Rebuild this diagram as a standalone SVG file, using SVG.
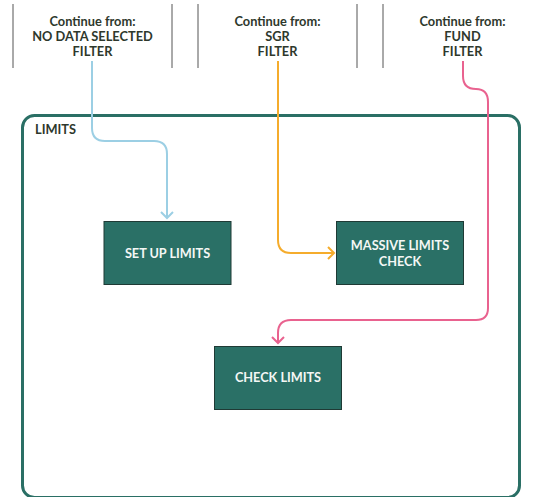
<svg xmlns="http://www.w3.org/2000/svg" width="535" height="497" viewBox="0 0 535 497">
  <style>
    .hdr { font-family: Lato, "Liberation Sans", sans-serif; font-weight: 700; font-size: 12.8px; fill: #2e382c; text-anchor: middle; }
    .sep { stroke: #555; stroke-width: 1; }
    .node rect { fill: #2a7066; stroke: #1f3a35; stroke-width: 1; }
    .node text { font-family: Lato, "Liberation Sans", sans-serif; font-weight: 700; font-size: 12.7px; fill: #f4f7f5; text-anchor: middle; }
    .edge { fill: none; stroke-width: 2; }
    .lbl { font-family: Lato, "Liberation Sans", sans-serif; font-weight: 700; font-size: 12.8px; fill: #2e382c; }
  </style>
  <defs>
    <marker id="arrBlue" markerUnits="userSpaceOnUse" markerWidth="14" markerHeight="14" refX="7" refY="7" orient="auto" viewBox="0 0 14 14">
      <path d="M1,1 L7,7 L1,13" fill="none" stroke="#9ccfe4" stroke-width="2"/>
    </marker>
    <marker id="arrOrange" markerUnits="userSpaceOnUse" markerWidth="14" markerHeight="14" refX="7" refY="7" orient="auto" viewBox="0 0 14 14">
      <path d="M1,1 L7,7 L1,13" fill="none" stroke="#f5ac2c" stroke-width="2"/>
    </marker>
    <marker id="arrPink" markerUnits="userSpaceOnUse" markerWidth="14" markerHeight="14" refX="7" refY="7" orient="auto" viewBox="0 0 14 14">
      <path d="M1,1 L7,7 L1,13" fill="none" stroke="#e9628f" stroke-width="2"/>
    </marker>
  </defs>

  <rect width="535" height="497" fill="#ffffff"/>

  <!-- header columns -->
  <g id="header">
    <line class="sep" x1="13" y1="4" x2="13" y2="68"/>
    <line class="sep" x1="172" y1="4" x2="172" y2="68"/>
    <line class="sep" x1="198" y1="4" x2="198" y2="68"/>
    <line class="sep" x1="357" y1="4" x2="357" y2="68"/>
    <line class="sep" x1="383" y1="4" x2="383" y2="68"/>
    <text class="hdr" x="92.5" y="26">Continue from:</text>
    <text class="hdr" x="92.5" y="41">NO DATA SELECTED</text>
    <text class="hdr" x="92.5" y="56">FILTER</text>
    <text class="hdr" x="277.5" y="26">Continue from:</text>
    <text class="hdr" x="277.5" y="41">SGR</text>
    <text class="hdr" x="277.5" y="56">FILTER</text>
    <text class="hdr" x="462.5" y="26">Continue from:</text>
    <text class="hdr" x="462.5" y="41">FUND</text>
    <text class="hdr" x="462.5" y="56">FILTER</text>
  </g>

  <!-- LIMITS container -->
  <g id="limits">
    <rect x="22.5" y="115.5" width="497" height="382" rx="12" ry="12" fill="none" stroke="#2a6f65" stroke-width="3"/>
    <text class="lbl" x="35" y="134">LIMITS</text>
  </g>

  <!-- connectors -->
  <g id="connectors">
    <path class="edge" stroke="#9ccfe4" d="M92 61 V128 Q92 141 105 141 H154 Q167 141 167 154 V218" marker-end="url(#arrBlue)"/>
    <path class="edge" stroke="#f5ac2c" d="M278 61 V240 Q278 253 291 253 H334" marker-end="url(#arrOrange)"/>
    <path class="edge" stroke="#e9628f" d="M463 61 V76 Q463 89 476 89 Q488 89 488 102 V308 Q488 320 476 320 H291 Q278 320 278 333 V343" marker-end="url(#arrPink)"/>
  </g>

  <!-- nodes -->
  <g id="setUpLimits" class="node">
    <rect x="104" y="221.5" width="127" height="63"/>
    <text x="167.5" y="258">SET UP LIMITS</text>
  </g>
  <g id="massiveLimitsCheck" class="node">
    <rect x="336.5" y="221.5" width="127" height="63"/>
    <text x="400" y="250">MASSIVE LIMITS</text>
    <text x="400" y="266">CHECK</text>
  </g>
  <g id="checkLimits" class="node">
    <rect x="214.5" y="346.5" width="127" height="63"/>
    <text x="278" y="382">CHECK LIMITS</text>
  </g>
</svg>
